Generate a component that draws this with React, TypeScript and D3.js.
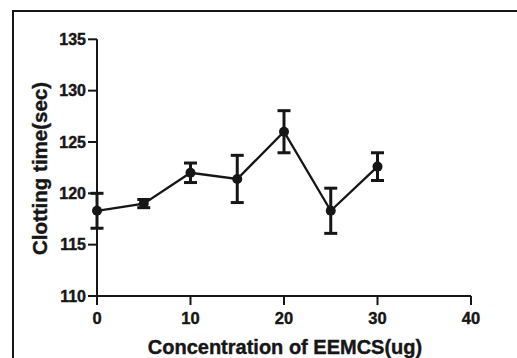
import React from "react";
import * as d3 from "d3";

const concentrations = [0, 5, 10, 15, 20, 25, 30];
const clottingTime = [118.3, 119.0, 122.0, 121.4, 126.0, 118.3, 122.6];
const errorSEM = [1.7, 0.4, 0.95, 2.3, 2.05, 2.2, 1.35];
const xTicks = [0, 10, 20, 30, 40];
const yTicks = [110, 115, 120, 125, 130, 135];

const W = 517;
const H = 358;
const m = { left: 97, right: 471, top: 39.3, bottom: 296 };
const ink = "#161616";
const font = "'Liberation Sans', Arial, sans-serif";

export default function App() {
  const x = d3.scaleLinear().domain([0, 40]).range([m.left, m.right]);
  const y = d3.scaleLinear().domain([110, 135]).range([m.bottom, m.top]);
  const pts = concentrations.map((c, i) => ({ c, v: clottingTime[i], e: errorSEM[i] }));
  const line = d3
    .line<{ c: number; v: number }>()
    .x((d) => x(d.c))
    .y((d) => y(d.v));
  const cap = 6.5;
  const textStroke = { stroke: ink, strokeWidth: 0.4 };
  return (
    <svg
      width={W}
      height={H}
      style={{ position: "fixed", left: 0, top: 0, background: "#fff" }}
      fontFamily={font}
    >
      <rect x={13} y={11} width={W} height={H} fill="none" stroke={ink} strokeWidth={2} />
      <line x1={x(0)} x2={x(0)} y1={y(135)} y2={y(110)} stroke={ink} strokeWidth={2} />
      <line x1={x(0)} x2={x(40)} y1={y(110)} y2={y(110)} stroke={ink} strokeWidth={2} />
      {yTicks.map((t) => (
        <g key={"y" + t}>
          <line x1={x(0) - 9} x2={x(0)} y1={y(t)} y2={y(t)} stroke={ink} strokeWidth={2} />
          <text
            x={x(0) - 11}
            y={y(t)}
            dy="0.36em"
            textAnchor="end"
            fontSize={16}
            fontWeight="bold"
            fill={ink}
            {...textStroke}
          >
            {t}
          </text>
        </g>
      ))}
      {xTicks.map((t) => (
        <g key={"x" + t}>
          <line x1={x(t)} x2={x(t)} y1={y(110)} y2={y(110) + 9} stroke={ink} strokeWidth={2} />
          <text
            x={x(t)}
            y={324}
            textAnchor="middle"
            fontSize={16.5}
            fontWeight="bold"
            fill={ink}
            {...textStroke}
          >
            {t}
          </text>
        </g>
      ))}
      <path d={line(pts) || ""} fill="none" stroke={ink} strokeWidth={2.3} />
      {pts.map((p, i) => (
        <g key={"p" + i}>
          <line x1={x(p.c)} x2={x(p.c)} y1={y(p.v + p.e)} y2={y(p.v - p.e)} stroke={ink} strokeWidth={3} />
          <line x1={x(p.c) - cap} x2={x(p.c) + cap} y1={y(p.v + p.e)} y2={y(p.v + p.e)} stroke={ink} strokeWidth={3} />
          <line x1={x(p.c) - cap} x2={x(p.c) + cap} y1={y(p.v - p.e)} y2={y(p.v - p.e)} stroke={ink} strokeWidth={3} />
          <circle cx={x(p.c)} cy={y(p.v)} r={5} fill={ink} />
        </g>
      ))}
      <text x={285} y={354} textAnchor="middle" fontSize={20} fontWeight="bold" fill={ink} {...textStroke}>
        Concentration of EEMCS(ug)
      </text>
      <text
        transform={`translate(47,168.5) rotate(-90)`}
        textAnchor="middle"
        fontSize={20.5}
        fontWeight="bold"
        fill={ink}
        {...textStroke}
      >
        Clotting time(sec)
      </text>
    </svg>
  );
}
